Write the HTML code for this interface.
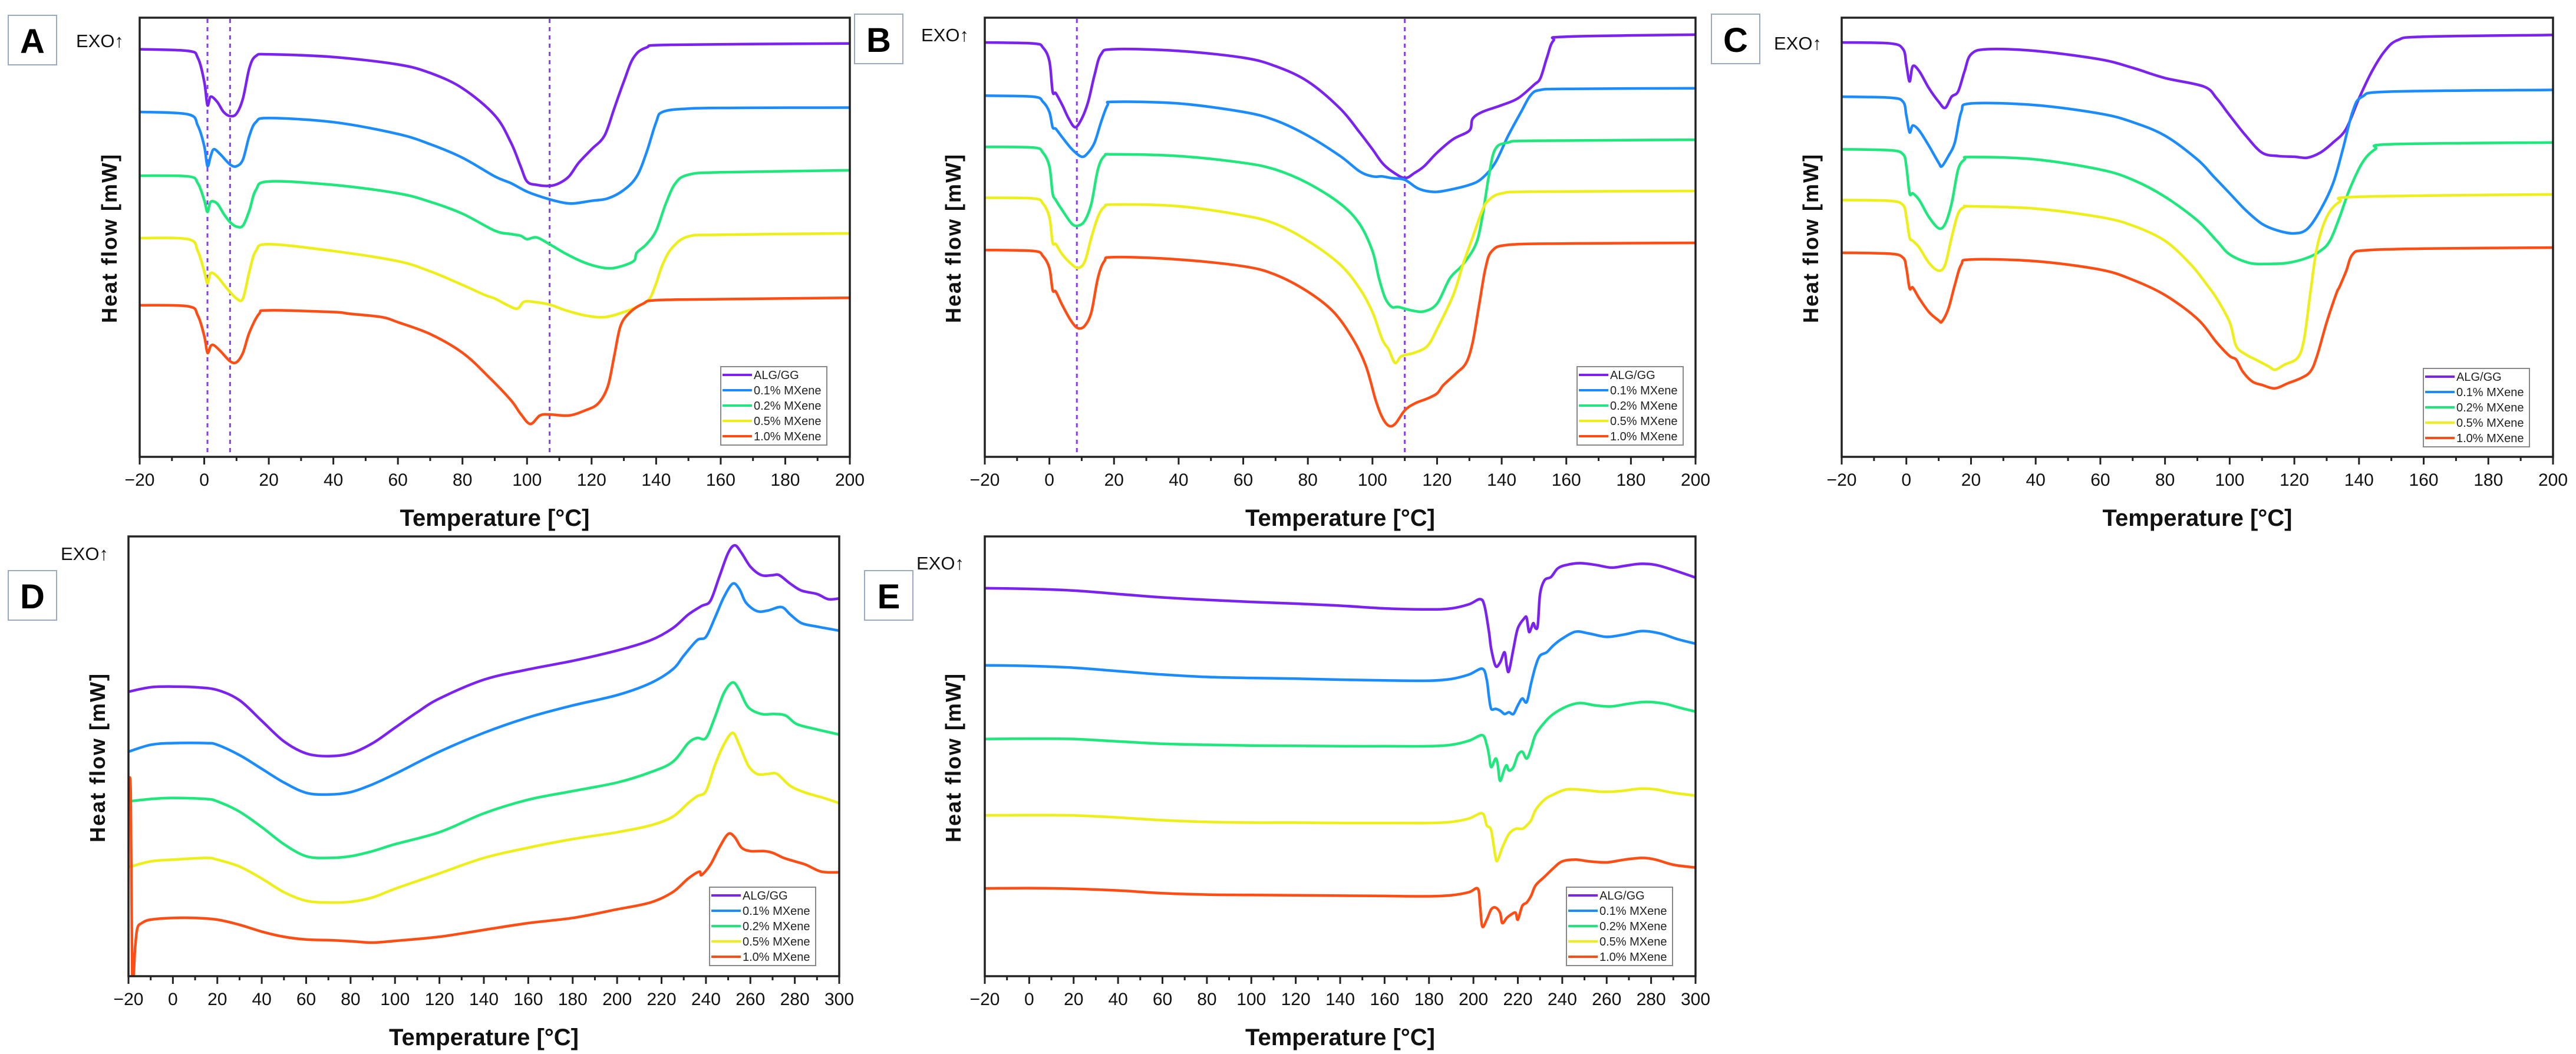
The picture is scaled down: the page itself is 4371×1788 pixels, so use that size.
<!DOCTYPE html>
<html><head><meta charset="utf-8"><style>
html,body{margin:0;padding:0;background:#fff;}
svg{display:block;font-family:"Liberation Sans",Arial,sans-serif;}
</style></head><body>
<svg id="fig" width="4371" height="1788" viewBox="0 0 4371 1788" xmlns="http://www.w3.org/2000/svg"></svg>
<script>
// Heat flow values are relative downward offsets in arbitrary units (larger = lower on the plot)
const seriesNames = ["ALG/GG","0.1% MXene","0.2% MXene","0.5% MXene","1.0% MXene"];
const seriesColors = ["#7b22f0","#1a8cff","#1ee87c","#eeee18","#ff4d14"];
const xTicksLow = [-20,0,20,40,60,80,100,120,140,160,180,200];
const xTicksHigh = [-20,0,20,40,60,80,100,120,140,160,180,200,220,240,260,280,300];
const dashesA = [1,8,107];
const dashesB = [8.5,110];

const A_alg=[[-20,145],[-5,150],[-2,170],[0,240],[1,310],[2,285],[4,300],[6,330],[8,342],[10,335],[12,290],[14,200],[16,165],[20,160],[40,168],[60,190],[70,215],[80,260],[90,340],[95,420],[98,490],[100,535],[103,545],[107,548],[110,540],[113,520],[116,480],[120,440],[124,400],[127,320],[130,240],[133,170],[137,140],[145,132],[200,128]];
const A_01=[[-20,330],[-5,337],[-2,370],[0,430],[1,490],[2,460],[3,440],[5,455],[8,485],[10,490],[12,470],[14,400],[16,360],[20,348],[40,360],[60,395],[70,425],[80,465],[90,520],[95,540],[100,565],[105,582],[110,595],[114,600],[120,592],[125,585],[130,560],[134,520],[137,450],[140,360],[142,330],[150,320],[165,318],[200,317]];
const A_02=[[-20,518],[-5,520],[-2,540],[0,590],[1,625],[2,595],[4,600],[6,630],[8,655],[10,668],[12,665],[14,620],[16,560],[20,535],[40,545],[60,570],[70,595],[80,630],[90,680],[95,690],[98,695],[100,705],[103,700],[107,720],[112,748],[118,775],[124,790],[128,788],[133,770],[134,745],[137,720],[140,680],[143,600],[146,540],[150,515],[160,508],[200,502]];
const A_05=[[-20,702],[-5,705],[-2,740],[0,800],[1,835],[2,805],[4,815],[7,850],[10,880],[12,880],[14,800],[16,740],[20,720],[40,740],[60,770],[70,800],[80,840],[87,870],[90,880],[94,900],[97,910],[99,890],[102,890],[107,898],[112,915],[118,930],[124,935],[130,920],[135,900],[138,880],[140,835],[142,780],[145,730],[150,697],[160,692],[200,688]];
const A_10=[[-20,900],[-5,903],[-2,930],[0,990],[1,1040],[2,1020],[3,1018],[5,1035],[8,1065],[10,1068],[12,1040],[14,980],[17,925],[20,915],[40,920],[45,925],[55,935],[60,950],[70,985],[80,1040],[88,1110],[95,1180],[98,1220],[101,1250],[104,1225],[107,1222],[113,1225],[118,1210],[122,1190],[125,1140],[127,1050],[129,960],[132,920],[136,895],[140,885],[160,882],[200,878]];

const B_alg=[[-20,125],[-5,128],[-2,140],[0,180],[1,270],[2,275],[4,310],[6,350],[8,375],[10,350],[12,300],[14,220],[16,160],[20,145],[40,150],[60,170],[70,195],[80,240],[90,320],[96,390],[100,440],[103,480],[106,505],[110,525],[113,510],[116,490],[120,450],[125,410],[130,385],[131,350],[134,330],[140,310],[145,290],[150,250],[152,230],[154,170],[156,120],[160,108],[200,102]];
const B_01=[[-20,282],[-5,285],[-2,300],[0,330],[1,375],[2,380],[4,405],[7,440],[10,462],[12,450],[14,420],[16,360],[18,310],[20,300],[40,305],[60,330],[70,355],[80,400],[90,460],[96,505],[100,520],[103,520],[106,525],[110,530],[114,555],[118,565],[122,563],[130,545],[134,525],[138,480],[142,400],[146,330],[149,280],[152,265],[160,262],[200,260]];
const B_02=[[-20,433],[-5,435],[-2,450],[0,490],[1,570],[2,590],[4,620],[7,660],[9,665],[11,650],[13,600],[15,500],[17,460],[20,455],[40,460],[60,480],[70,500],[80,540],[90,600],[96,660],[100,740],[102,820],[104,880],[106,905],[108,905],[112,915],[116,918],[120,895],[124,820],[128,780],[132,720],[134,640],[136,520],[138,440],[142,420],[150,415],[200,412]];
const B_05=[[-20,583],[-5,585],[-2,600],[0,640],[1,715],[2,720],[4,750],[7,780],[9,790],[11,770],[13,700],[15,640],[17,610],[20,603],[40,608],[60,635],[70,660],[80,710],[90,780],[96,850],[100,920],[103,1000],[105,1030],[107,1070],[109,1050],[113,1040],[117,1020],[120,970],[125,870],[128,780],[131,700],[134,620],[136,590],[140,570],[150,565],[200,563]];
const B_10=[[-20,737],[-5,740],[-2,755],[0,790],[1,855],[2,860],[4,900],[7,950],[9,968],[11,960],[13,920],[15,820],[17,770],[20,758],[40,765],[60,785],[70,810],[80,860],[88,920],[94,1000],[98,1080],[101,1180],[103,1230],[105,1255],[107,1250],[110,1210],[113,1190],[117,1175],[120,1160],[122,1135],[126,1100],[129,1070],[131,1010],[133,900],[135,790],[137,740],[142,722],[160,718],[200,716]];

const C_alg=[[-20,125],[-5,128],[-1,145],[0,190],[1,240],[2,195],[4,210],[7,260],[10,300],[12,318],[14,285],[16,270],[18,210],[20,160],[25,145],[40,150],[60,175],[70,200],[80,230],[92,255],[96,290],[100,340],[105,400],[110,450],[115,460],[120,462],[124,465],[128,450],[132,420],[136,380],[140,290],[144,210],[148,150],[152,118],[160,108],[200,103]];
const C_01=[[-20,285],[-5,288],[-1,300],[0,340],[1,390],[2,370],[4,385],[7,430],[10,480],[11,490],[13,460],[15,420],[17,330],[20,305],[40,310],[60,335],[70,360],[80,400],[90,470],[95,520],[100,570],[105,620],[110,660],[115,680],[120,688],[124,675],[128,620],[132,540],[135,440],[138,330],[141,285],[150,270],[200,265]];
const C_02=[[-20,440],[-5,443],[-1,455],[0,490],[1,570],[2,570],[4,590],[7,640],[10,673],[12,660],[14,600],[16,500],[18,470],[20,463],[40,470],[60,500],[70,530],[80,580],[90,650],[96,710],[100,750],[106,775],[112,778],[118,775],[124,760],[128,740],[131,710],[134,640],[137,560],[141,480],[145,440],[150,425],[200,420]];
const C_05=[[-20,590],[-5,592],[-1,605],[0,640],[1,700],[2,710],[4,730],[7,775],[10,798],[12,780],[14,700],[16,630],[18,610],[20,608],[40,615],[60,640],[70,665],[80,710],[88,780],[93,840],[96,880],[100,950],[102,1020],[105,1045],[108,1060],[112,1080],[114,1090],[117,1075],[121,1055],[123,1000],[125,860],[127,730],[130,640],[134,595],[140,580],[200,573]];
const C_10=[[-20,745],[-5,748],[-1,760],[0,790],[1,850],[2,848],[4,880],[7,920],[10,945],[11,948],[13,910],[15,840],[17,780],[20,765],[40,770],[60,795],[70,825],[80,870],[90,940],[96,1010],[100,1050],[102,1060],[104,1095],[107,1125],[110,1135],[114,1145],[118,1130],[122,1115],[125,1095],[127,1050],[130,950],[133,865],[134,845],[136,800],[138,750],[142,738],[160,733],[200,730]];

const D_alg=[[-20,505],[-10,492],[0,490],[10,492],[20,500],[30,530],[40,590],[50,650],[60,685],[70,693],[80,685],[90,655],[100,610],[110,565],[120,525],[140,470],[160,440],[180,415],[200,385],[215,355],[225,320],[232,280],[238,255],[242,240],[246,170],[250,100],[253,78],[256,100],[260,140],[265,165],[270,165],[273,165],[278,190],[283,210],[290,220],[295,235],[300,233]];
const D_01=[[-20,680],[-10,660],[0,655],[15,655],[20,660],[30,690],[40,730],[50,770],[60,800],[70,805],[80,798],[90,775],[100,745],[120,680],[140,625],[160,580],[180,545],[200,515],[215,480],[225,440],[230,400],[236,355],[240,345],[244,290],[248,230],[252,190],[255,205],[258,245],[263,270],[268,268],[274,258],[278,280],[283,305],[290,315],[300,327]];
const D_02=[[-20,825],[-10,818],[0,815],[15,818],[20,825],[30,855],[40,900],[50,950],[60,985],[70,990],[80,985],[90,970],[100,950],[120,915],[140,860],[160,820],[180,795],[200,770],[215,740],[225,710],[232,655],[236,640],[240,640],[244,580],[248,510],[252,478],[255,500],[259,550],[265,570],[271,570],[276,575],[281,600],[290,615],[300,630]];
const D_05=[[-20,1017],[-10,1000],[0,995],[15,990],[20,995],[30,1015],[40,1050],[50,1090],[60,1115],[70,1120],[80,1118],[90,1105],[100,1080],[120,1035],[140,990],[160,960],[180,935],[200,915],[215,895],[225,870],[232,830],[236,810],[240,795],[244,720],[248,660],[252,625],[255,660],[259,720],[263,745],[268,745],[272,745],[278,780],[285,800],[293,815],[300,830]];
const D_10=[[-20,785],[-19,800],[-18.3,1340],[-17,1250],[-16,1195],[-14,1180],[-10,1170],[0,1165],[10,1165],[20,1170],[30,1185],[40,1205],[50,1220],[60,1228],[70,1230],[80,1233],[90,1237],[100,1232],[120,1220],[140,1200],[160,1180],[180,1165],[200,1140],[215,1120],[225,1090],[232,1050],[237,1030],[238,1040],[242,1010],[246,960],[250,920],[253,930],[256,960],[260,970],[266,970],[270,975],[275,990],[280,1000],[285,1010],[292,1030],[300,1032]];

const E_alg=[[-20,203],[0,205],[20,210],[40,220],[60,230],[80,237],[100,243],[120,248],[140,254],[160,262],[180,265],[190,262],[198,250],[203,235],[205,255],[207,330],[208,380],[210,430],[212,420],[214,390],[215,430],[216,445],[218,380],[220,320],[223,290],[224,290],[225,330],[226,320],[227,305],[228,320],[229,310],[230,220],[232,180],[235,170],[238,145],[242,135],[248,130],[255,135],[262,143],[268,138],[275,132],[282,135],[290,150],[300,172]];
const E_01=[[-20,428],[0,430],[20,435],[40,445],[60,455],[80,462],[100,465],[120,467],[140,470],[160,472],[180,473],[190,468],[198,455],[204,438],[206,470],[207,520],[208,555],[210,555],[212,560],[214,570],[216,565],[218,570],[220,545],[222,525],[224,535],[226,480],[228,430],[230,400],[233,390],[236,370],[240,350],[246,330],[252,335],[260,345],[268,338],[276,328],[284,335],[292,352],[300,365]];
const E_02=[[-20,643],[0,642],[20,643],[40,650],[60,657],[80,660],[100,662],[120,663],[140,664],[160,664],[180,664],[190,660],[198,648],[204,632],[206,660],[207,690],[208,725],[210,700],[211,720],[212,765],[214,730],[215,720],[216,735],[218,725],[220,690],[222,680],[224,700],[226,670],[228,630],[232,595],[236,570],[242,548],[248,538],[255,545],[262,548],[270,540],[278,535],[286,540],[293,552],[300,563]];
const E_05=[[-20,866],[0,865],[20,866],[40,872],[60,880],[80,885],[100,887],[120,887],[140,888],[160,888],[180,888],[190,885],[198,875],[204,860],[206,895],[208,910],[210,990],[211,995],[213,960],[216,920],[219,905],[222,905],[224,895],[226,880],[228,850],[232,820],[236,805],[242,790],[250,792],[258,797],[266,795],[275,788],[282,790],[290,800],[300,808]];
const E_10=[[-20,1079],[0,1078],[20,1080],[40,1085],[60,1093],[80,1097],[100,1098],[120,1099],[140,1100],[160,1101],[180,1102],[190,1099],[198,1090],[202,1080],[203,1130],[204,1190],[206,1170],[208,1140],[210,1135],[212,1150],[213,1180],[215,1165],[217,1155],[219,1150],[220,1170],[222,1130],[224,1120],[226,1100],[228,1070],[232,1045],[236,1020],[240,1000],[246,995],[252,1000],[260,1003],[268,995],[276,990],[282,995],[290,1010],[300,1018]];

const NS="http://www.w3.org/2000/svg";
const svg=document.getElementById('fig');
function mk(tag,attrs,parent){const e=document.createElementNS(NS,tag);for(const k in attrs)e.setAttribute(k,attrs[k]);(parent||svg).appendChild(e);return e;}
function smoothPath(pts){
 let d='M'+pts[0][0].toFixed(1)+','+pts[0][1].toFixed(1);
 for(let i=0;i<pts.length-1;i++){
  const p0=pts[i-1]||pts[i],p1=pts[i],p2=pts[i+1],p3=pts[i+2]||p2;
  const c1x=p1[0]+(p2[0]-p0[0])/6,c1y=p1[1]+(p2[1]-p0[1])/6;
  const c2x=p2[0]-(p3[0]-p1[0])/6,c2y=p2[1]-(p3[1]-p1[1])/6;
  d+=' C'+c1x.toFixed(1)+','+c1y.toFixed(1)+' '+c2x.toFixed(1)+','+c2y.toFixed(1)+' '+p2[0].toFixed(1)+','+p2[1].toFixed(1);
 }
 return d;
}

const panels=[
 {id:'a',L:237,R:1442,T:30,B:775,xmin:-20,xmax:200,ticks:xTicksLow,minor:10,yTop:52,yBot:1347,series:[A_alg,A_01,A_02,A_05,A_10],dashes:dashesA,letter:'A',box:[14,26],exo:[129,80],ylab:[185,404],leg:[1223,622]},
 {id:'b',L:1671,R:2877,T:30,B:775,xmin:-20,xmax:200,ticks:xTicksLow,minor:10,yTop:52,yBot:1347,series:[B_alg,B_01,B_02,B_05,B_10],dashes:dashesB,letter:'B',box:[1450,24],exo:[1563,70],ylab:[1617,404],leg:[2676,622]},
 {id:'c',L:3125,R:4332,T:30,B:775,xmin:-20,xmax:200,ticks:xTicksLow,minor:10,yTop:52,yBot:1347,series:[C_alg,C_01,C_02,C_05,C_10],dashes:[],letter:'C',box:[2904,24],exo:[3010,84],ylab:[3072,404],leg:[4112,625]},
 {id:'d',L:218,R:1424,T:910,B:1656,xmin:-20,xmax:300,ticks:xTicksHigh,minor:10,yTop:52,yBot:1335,series:[D_alg,D_01,D_02,D_05,D_10],dashes:[],letter:'D',box:[14,968],exo:[103,950],ylab:[165,1285],leg:[1204,1505]},
 {id:'e',L:1671,R:2877,T:910,B:1656,xmin:-20,xmax:300,ticks:xTicksHigh,minor:10,yTop:52,yBot:1335,series:[E_alg,E_01,E_02,E_05,E_10],dashes:[],letter:'E',box:[1467,968],exo:[1555,966],ylab:[1617,1285],leg:[2658,1505]}
];

panels.forEach(p=>{
 const g=mk('g',{});
 
 
 const xs=v=>p.L+(v-p.xmin)/(p.xmax-p.xmin)*(p.R-p.L);
 const ys=v=>p.T+(v-p.yTop)/(p.yBot-p.yTop)*(p.B-p.T);
 const cp=mk('clipPath',{id:'clip-'+p.id},g);
 mk('rect',{x:p.L,y:p.T,width:p.R-p.L,height:p.B-p.T},cp);
 p.dashes.forEach(d=>{
  const l=mk('line',{x1:xs(d),x2:xs(d),y1:p.T+2,y2:p.B-2,stroke:'#8a3cf0','stroke-width':3,'stroke-dasharray':'7,7'},g);
  
  
 });
 const sg=mk('g',{'clip-path':'url(#clip-'+p.id+')'},g);
 p.series.forEach((s,i)=>{
  const pts=s.map(pt=>[xs(pt[0]),ys(pt[1])]);
  const path=mk('path',{d:smoothPath(pts),fill:'none',stroke:seriesColors[i],'stroke-width':4.5,'stroke-linejoin':'round','stroke-linecap':'round'},sg);
  
  
 });
 const fr=mk('rect',{x:p.L,y:p.T,width:p.R-p.L,height:p.B-p.T,fill:'none',stroke:'#222','stroke-width':3.5},g);
 
 
 for(let v=p.xmin;v<=p.xmax;v+=p.minor){
  const major=p.ticks.indexOf(v)>=0;
  mk('line',{x1:xs(v),x2:xs(v),y1:p.B,y2:p.B+(major?13:7),stroke:'#222','stroke-width':3},g);
 }
 p.ticks.forEach(v=>{
  const t=mk('text',{x:xs(v),y:p.B+49,'font-size':30,'text-anchor':'middle',fill:'#111'},g);
  t.textContent=(v<0?'\u2212'+(-v):String(v));
  
  
 });
 const xt=mk('text',{x:(p.L+p.R)/2,y:p.B+117,'font-size':40,'font-weight':'bold','text-anchor':'middle',fill:'#111'},g);
 xt.textContent='Temperature [°C]';
 
 
 const yt=mk('text',{x:0,y:0,'font-size':36,'font-weight':'bold','text-anchor':'middle','letter-spacing':'2',fill:'#111',transform:'translate('+(p.ylab[0]+13)+','+p.ylab[1]+') rotate(-90)'},g);
 yt.textContent='Heat flow [mW]';
 
 
 const bx=mk('rect',{x:p.box[0],y:p.box[1],width:82,height:84,fill:'#fff',stroke:'#9aa8c8','stroke-width':2},g);
 
 
 const lt=mk('text',{x:p.box[0]+41,y:p.box[1]+64,'font-size':58,'font-weight':'bold','text-anchor':'middle',fill:'#000'},g);
 lt.textContent=p.letter;
 
 
 const ex=mk('text',{x:p.exo[0],y:p.exo[1],'font-size':31,fill:'#111'},g);
 ex.textContent='EXO\u2191';
 
 
 const lg=mk('g',{},g);
 
 
 mk('rect',{x:p.leg[0],y:p.leg[1],width:180,height:133,fill:'#fff',stroke:'#888','stroke-width':2},lg);
 seriesNames.forEach((n,i)=>{
  const cy=p.leg[1]+14+i*26;
  const e=mk('g',{},lg);
  
  
  mk('line',{x1:p.leg[0]+3,x2:p.leg[0]+53,y1:cy,y2:cy,stroke:seriesColors[i],'stroke-width':4},e);
  const tx=mk('text',{x:p.leg[0]+56,y:cy+7,'font-size':20,fill:'#222'},e);
  tx.textContent=n;
 });
});
</script>
</body></html>
